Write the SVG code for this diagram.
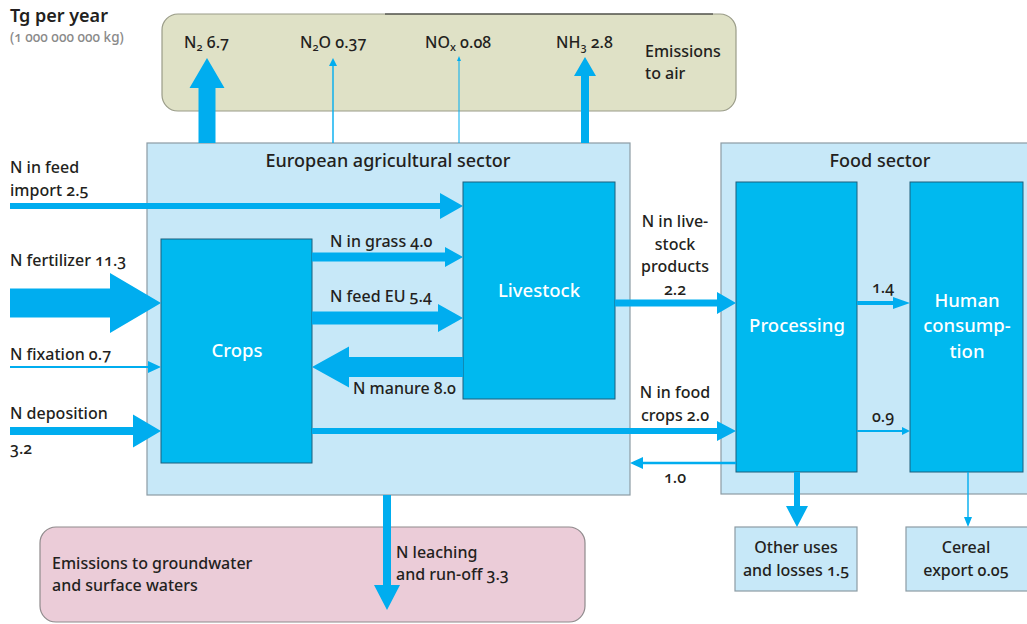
<svg xmlns="http://www.w3.org/2000/svg" width="1027" height="624" viewBox="0 0 1027 624">
<style>
text{font-family:"Noto Sans","Open Sans","DejaVu Sans",sans-serif;font-size:16px;font-weight:500;fill:#231f20;font-variant-numeric:oldstyle-nums}
.w{fill:#ffffff;font-size:18.5px}
.c{text-anchor:middle}
.h{font-size:18px}
.sec{fill:#c7e8f8;stroke:#8c9ba4;stroke-width:1.2}
.node{fill:#00b9ef;stroke:#1d5f7c;stroke-width:1}
.arr{fill:#00adef}
.sub{font-size:11px}
</style>
<rect width="1027" height="624" fill="#ffffff"/>
<g id="emissions-air"><rect x="162" y="14" width="574" height="97" rx="16" fill="#dfe1c6" stroke="#9a9c88" stroke-width="1.2"/><line x1="385" y1="14" x2="713" y2="14" stroke="#2a2a2a" stroke-width="1"/></g>
<g id="emissions-water"><rect x="40" y="527" width="545" height="95" rx="16" fill="#ebccd8" stroke="#8f8a8c" stroke-width="1.2"/></g>
<g id="eu-sector"><rect class="sec" x="147" y="143" width="483" height="352"/></g>
<g id="food-sector"><rect class="sec" x="721" y="143" width="312" height="351"/></g>
<g id="crops"><rect class="node" x="161" y="239" width="151" height="224"/></g>
<g id="livestock"><rect class="node" x="463" y="182" width="152" height="217"/></g>
<g id="processing"><rect class="node" x="736" y="182" width="121" height="290"/></g>
<g id="human"><rect class="node" x="910" y="182" width="113" height="290"/></g>
<g id="other-uses"><rect class="sec" x="735" y="527" width="122" height="64"/></g>
<g id="cereal-export"><rect class="sec" x="906" y="527" width="125" height="64"/></g>
<g id="connectors" class="arr">
<polygon points="10,203 440,203 440,193 463,206 440,219 440,209 10,209"/>
<polygon points="312,252.5 445,252.5 445,247 463,257 445,267 445,261.5 312,261.5"/>
<polygon points="312,311.5 438,311.5 438,304 463,318 438,332 438,324.5 312,324.5"/>
<polygon points="463,357 349,357 349,346.5 312,367 349,387.5 349,377 463,377"/>
<polygon points="312,428 717,428 717,421 736,431 717,441 717,434 312,434"/>
<polygon points="615,299.5 717,299.5 717,292 736,303 717,314 717,306.5 615,306.5"/>
<polygon points="857,301 893,301 893,297 910,303 893,309 893,305 857,305"/>
<polygon points="857,430 902,430 902,427 910,431 902,435 902,432 857,432"/>
<polygon points="736,461.8 643,461.8 643,457 630,463 643,469 643,464.2 736,464.2"/>
<polygon points="794,472 800,472 800,506 808,506 797,527 786,506 794,506"/>
<polygon points="967.3,472 968.7,472 968.7,517 972,517 968,527 964,517 967.3,517"/>
<polygon points="10,288.5 110,288.5 110,273 161,303 110,333 110,317.5 10,317.5"/>
<polygon points="10,366 148,366 148,361 161,367 148,373 148,368 10,368"/>
<polygon points="10,427 133,427 133,414.5 161,431 133,447.5 133,435 10,435"/>
<polygon points="198.5,143 215.5,143 215.5,88 224.5,88 207,58 189.5,88 198.5,88"/>
<polygon points="332.3,143 333.7,143 333.7,66 337,66 333,58 329,66 332.3,66"/>
<polygon points="458.5,143 459.5,143 459.5,61 461,61 459,56 457,61 458.5,61"/>
<polygon points="581,143 589,143 589,76 596,76 585,57 574,76 581,76"/>
<polygon points="383,495 391,495 391,585 400,585 387,610 374,585 383,585"/>
</g>
<g id="labels">
<text x="10" y="22" style="font-size:18px;font-weight:600">Tg per year</text>
<text x="10" y="42" style="font-size:13.5px;fill:#8a8a8a">(1 000 000 000 kg)</text>
<text x="184" y="48">N<tspan class="sub" dy="3">2</tspan><tspan dy="-3"> 6.7</tspan></text>
<text x="300" y="48">N<tspan class="sub" dy="3">2</tspan><tspan dy="-3">O 0.37</tspan></text>
<text x="425" y="48">NO<tspan class="sub" dy="3">x</tspan><tspan dy="-3"> 0.08</tspan></text>
<text x="556" y="48">NH<tspan class="sub" dy="3">3</tspan><tspan dy="-3"> 2.8</tspan></text>
<text x="645" y="57">Emissions</text>
<text x="645" y="79">to air</text>
<text class="c h" x="388" y="167">European agricultural sector</text>
<text class="c h" x="880" y="167">Food sector</text>
<text class="w c" x="237" y="357">Crops</text>
<text class="w c" x="539" y="297">Livestock</text>
<text class="w c" x="797" y="332">Processing</text>
<text class="w c" x="967" y="307">Human</text>
<text class="w c" x="967" y="332">consump-</text>
<text class="w c" x="967" y="358">tion</text>
<text x="10" y="173">N in feed</text>
<text x="10" y="196">import 2.5</text>
<text x="10" y="266">N fertilizer 11.3</text>
<text x="10" y="360">N fixation 0.7</text>
<text x="10" y="419">N deposition</text>
<text x="10" y="454">3.2</text>
<text x="330" y="247">N in grass 4.0</text>
<text x="330" y="302">N feed EU 5.4</text>
<text x="353" y="394">N manure 8.0</text>
<text class="c" x="675" y="227">N in live-</text>
<text class="c" x="675" y="250">stock</text>
<text class="c" x="675" y="272">products</text>
<text class="c" x="675" y="295">2.2</text>
<text class="c" x="675" y="398">N in food</text>
<text class="c" x="675" y="421">crops 2.0</text>
<text class="c" x="675" y="483">1.0</text>
<text class="c" x="883" y="293">1.4</text>
<text class="c" x="883" y="422">0.9</text>
<text class="c" x="796" y="553">Other uses</text>
<text class="c" x="796" y="576">and losses 1.5</text>
<text class="c" x="966" y="553">Cereal</text>
<text class="c" x="966" y="576">export 0.05</text>
<text x="52" y="569">Emissions to groundwater</text>
<text x="52" y="591">and surface waters</text>
<text x="396" y="558">N leaching</text>
<text x="396" y="580">and run-off 3.3</text>
</g>
</svg>
